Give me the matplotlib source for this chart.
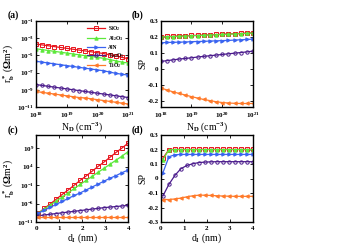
import numpy as np
import matplotlib
matplotlib.use("Agg")
import matplotlib.pyplot as plt

plt.rcParams['font.family'] = ['Liberation Serif', 'DejaVu Serif']
plt.rcParams['font.weight'] = 'bold'
plt.rcParams['mathtext.fontset'] = 'custom'
plt.rcParams['mathtext.rm'] = 'Liberation Serif:bold'
plt.rcParams['mathtext.it'] = 'Liberation Serif:bold'
plt.rcParams['mathtext.bf'] = 'Liberation Serif:bold'

names = ['SiO$_2$', 'Al$_2$O$_3$', 'AlN', 'Ta$_2$O$_5$', 'TiO$_2$']
colors = ['#e8141c', '#5ce83a', '#3a64f0', '#4b1c8c', '#ff7a2a']
markers = ['s', '^', '>', 'o', '<']
fills = ['none', 'full', 'full', 'none', 'full']

# panel a/b: x = doping density (cm^-3), log10 values
logN = [18.0, 18.2, 18.4, 18.6, 18.8, 19.0, 19.2, 19.4, 19.6, 19.8,
        20.0, 20.2, 20.4, 20.6, 20.8, 21.0]
# log10 of r_b* (Ohm m^2)
ra_SiO2 = [-3.7, -3.8, -3.9, -4.0, -4.1, -4.2, -4.3, -4.4, -4.5, -4.6, -4.7, -4.8, -4.95, -5.1, -5.25, -5.4]
ra_Al2O3 = [-4.25, -4.35, -4.45, -4.55, -4.65, -4.75, -4.85, -4.95, -5.05, -5.15, -5.25, -5.35, -5.5, -5.65, -5.8, -5.9]
ra_AlN = [-5.7, -5.8, -5.9, -6.0, -6.1, -6.2, -6.3, -6.4, -6.5, -6.6, -6.7, -6.8, -6.95, -7.1, -7.2, -7.3]
ra_Ta2O5 = [-8.4, -8.5, -8.6, -8.7, -8.8, -8.9, -9.0, -9.1, -9.2, -9.3, -9.4, -9.5, -9.6, -9.7, -9.8, -9.9]
ra_TiO2 = [-9.2, -9.3, -9.4, -9.5, -9.6, -9.7, -9.8, -9.9, -9.95, -10.05, -10.15, -10.25, -10.35, -10.45, -10.55, -10.65]

sb_SiO2 = [0.200, 0.202, 0.203, 0.205, 0.206, 0.208, 0.209, 0.211, 0.212, 0.214, 0.216, 0.218, 0.219, 0.221, 0.223, 0.225]
sb_Al2O3 = [0.198, 0.200, 0.201, 0.203, 0.204, 0.206, 0.207, 0.209, 0.211, 0.212, 0.214, 0.216, 0.217, 0.219, 0.221, 0.223]
sb_AlN = [0.162, 0.164, 0.165, 0.166, 0.167, 0.169, 0.170, 0.171, 0.173, 0.174, 0.176, 0.177, 0.179, 0.181, 0.183, 0.185]
sb_Ta2O5 = [0.045, 0.050, 0.055, 0.060, 0.064, 0.068, 0.073, 0.077, 0.081, 0.085, 0.089, 0.093, 0.097, 0.101, 0.105, 0.110]
sb_TiO2 = [-0.120, -0.133, -0.145, -0.155, -0.165, -0.175, -0.184, -0.193, -0.200, -0.207, -0.212, -0.215, -0.217, -0.218, -0.218, -0.218]

# panel c/d: x = insulator thickness (nm)
dI = [0.1, 0.36, 0.62, 0.88, 1.14, 1.4, 1.66, 1.92, 2.18, 2.44,
      2.7, 2.96, 3.22, 3.48, 3.74, 4.0]
rc_SiO2 = [-8.6, -7.3, -6.1, -4.8, -3.5, -2.3, -1.0, 0.3, 1.5, 2.8, 4.1, 5.3, 6.6, 7.9, 9.1, 10.4]
rc_Al2O3 = [-8.6, -7.5, -6.4, -5.3, -4.2, -3.1, -1.9, -0.8, 0.3, 1.4, 2.5, 3.6, 4.7, 5.8, 6.9, 8.1]
rc_AlN = [-8.6, -7.8, -7.0, -6.2, -5.4, -4.6, -3.8, -3.1, -2.3, -1.5, -0.7, 0.1, 0.9, 1.6, 2.4, 3.1]
rc_Ta2O5 = [-9.3, -9.1, -8.9, -8.7, -8.5, -8.3, -8.1, -7.9, -7.7, -7.5, -7.3, -7.1, -6.95, -6.8, -6.65, -6.5]
rc_TiO2 = [-9.6, -9.6, -9.6, -9.6, -9.6, -9.6, -9.6, -9.6, -9.6, -9.6, -9.6, -9.6, -9.6, -9.6, -9.6, -9.6]

sd_SiO2 = [0.140, 0.200, 0.201, 0.201, 0.201, 0.201, 0.201, 0.201, 0.201, 0.201, 0.201, 0.201, 0.201, 0.201, 0.201, 0.201]
sd_Al2O3 = [0.130, 0.198, 0.199, 0.199, 0.199, 0.199, 0.199, 0.199, 0.199, 0.199, 0.199, 0.199, 0.199, 0.199, 0.199, 0.199]
sd_AlN = [0.040, 0.150, 0.164, 0.166, 0.166, 0.166, 0.166, 0.166, 0.166, 0.166, 0.166, 0.166, 0.166, 0.166, 0.166, 0.166]
sd_Ta2O5 = [-0.120, -0.040, 0.022, 0.068, 0.090, 0.102, 0.110, 0.113, 0.115, 0.116, 0.116, 0.116, 0.116, 0.116, 0.116, 0.116]
sd_TiO2 = [-0.145, -0.145, -0.141, -0.135, -0.126, -0.119, -0.115, -0.115, -0.117, -0.119, -0.121, -0.122, -0.123, -0.123, -0.123, -0.123]

ra = [ra_SiO2, ra_Al2O3, ra_AlN, ra_Ta2O5, ra_TiO2]
sb = [sb_SiO2, sb_Al2O3, sb_AlN, sb_Ta2O5, sb_TiO2]
rc = [rc_SiO2, rc_Al2O3, rc_AlN, rc_Ta2O5, rc_TiO2]
sd = [sd_SiO2, sd_Al2O3, sd_AlN, sd_Ta2O5, sd_TiO2]

fig = plt.figure(figsize=(3.53, 2.5), dpi=100)
axa = fig.add_axes([0.102, 0.572, 0.261, 0.345])
axb = fig.add_axes([0.455, 0.572, 0.262, 0.345])
axc = fig.add_axes([0.102, 0.112, 0.261, 0.348])
axd = fig.add_axes([0.455, 0.112, 0.262, 0.348])

N = 10.0 ** np.array(logN)
for i in range(5):
    kw = dict(color=colors[i], marker=markers[i], fillstyle=fills[i],
              markersize=2.4, lw=0.9, markeredgewidth=0.7)
    axa.plot(N, 10.0 ** np.array(ra[i]), label=names[i], **kw)
    axb.plot(N, sb[i], **kw)
    axc.plot(dI, 10.0 ** np.array(rc[i]), **kw)
    axd.plot(dI, sd[i], **kw)

for ax in [axa, axb]:
    ax.set_xscale('log')
    ax.set_xlim(1e18, 1e21)
    ax.set_xticks([1e18, 1e19, 1e20, 1e21])
    ax.minorticks_off()
    ax.set_xlabel('N$_D$ (cm$^{-3}$)', fontsize=7, labelpad=0)

axa.set_yscale('log')
axa.set_ylim(1e-11, 1e-1)
axa.set_yticks([1e-11, 1e-9, 1e-7, 1e-5, 1e-3, 1e-1])
axa.minorticks_off()
axa.set_ylabel('r$_b^*$ ($\\Omega$m$^2$)', fontsize=7, labelpad=1)

axb.set_ylim(-0.24, 0.3)
axb.set_yticks([-0.2, -0.1, 0, 0.1, 0.2, 0.3])
axb.set_yticklabels(['-0.2', '-0.1', '0', '0.1', '0.2', '0.3'])
axb.set_ylabel('SP', fontsize=7, labelpad=0)

axc.set_yscale('log')
axc.set_ylim(1e-11, 10 ** 12.6)
axc.set_yticks([1e-11, 1e-6, 1e-1, 1e4, 1e9])
axc.minorticks_off()
axc.set_ylabel('r$_b^*$ ($\\Omega$m$^2$)', fontsize=7, labelpad=1)

axd.set_ylim(-0.3, 0.3)
axd.set_yticks([-0.3, -0.2, -0.1, 0, 0.1, 0.2, 0.3])
axd.set_yticklabels(['-0.3', '-0.2', '-0.1', '0', '0.1', '0.2', '0.3'])
axd.set_ylabel('SP', fontsize=7, labelpad=0)

for ax in [axc, axd]:
    ax.set_xlim(0, 4)
    ax.set_xticks([0, 1, 2, 3, 4])
    ax.set_xlabel('d$_I$ (nm)', fontsize=7, labelpad=0)

for ax, lab in zip([axa, axb, axc, axd], ['(a)', '(b)', '(c)', '(d)']):
    ax.tick_params(direction='in', top=True, right=True, labelsize=5,
                   length=2, width=0.6, pad=1.5)
    ax.tick_params(axis='x', pad=3)
    for s in ax.spines.values():
        s.set_linewidth(1.0)
    ax.text(-0.31, 1.06, lab, transform=ax.transAxes, fontsize=7,
            fontweight='bold', va='center', ha='left')

axa.legend(loc='upper right', fontsize=4, frameon=False, handlelength=3.2,
           borderaxespad=0.2, labelspacing=0.25, handletextpad=0.6)

fig.savefig('out.png', dpi=100)
